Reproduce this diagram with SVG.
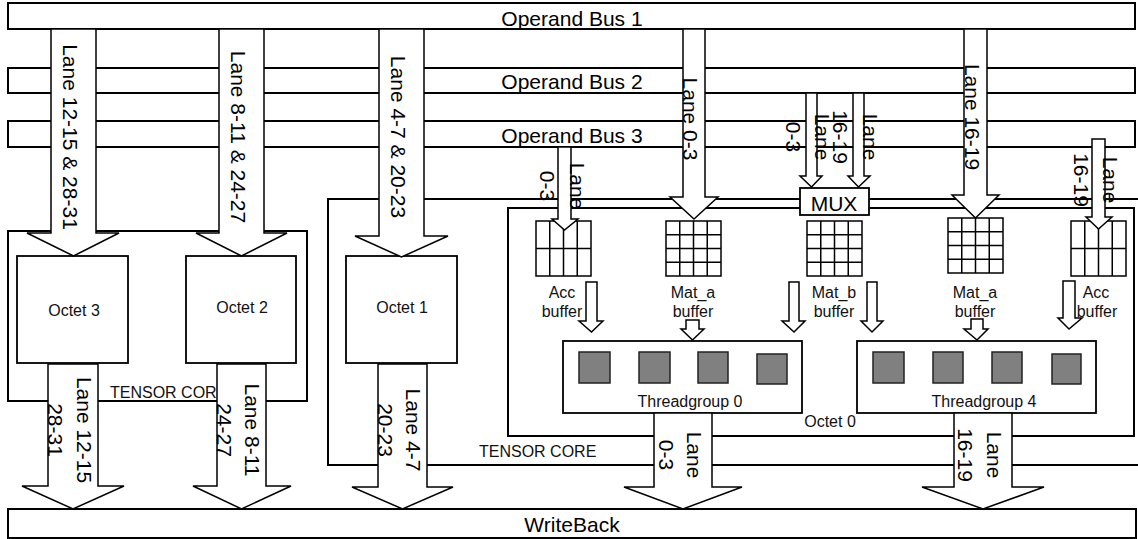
<svg xmlns="http://www.w3.org/2000/svg" width="1138" height="539" viewBox="0 0 1138 539">
<style>
.bus{fill:#fff;stroke:#000;stroke-width:2}
.ln{fill:none;stroke:#000;stroke-width:2}
.box{fill:#fff;stroke:#000;stroke-width:1.8}
.grid{fill:#fff;stroke:#000;stroke-width:1.5}
.core{fill:#808080;stroke:#222;stroke-width:1.5}
.arr{fill:#fff;stroke:#000;stroke-width:1.5;stroke-linejoin:miter}
.big{font-family:"Liberation Sans",Arial,sans-serif;font-size:21px;fill:#000}
.sm{font-family:"Liberation Sans",Arial,sans-serif;font-size:16px;fill:#111}
.mid{text-anchor:middle}
</style>
<rect width="1138" height="539" fill="#fff"/>

<g id="bus1"><rect class="bus" x="8" y="3" width="1127" height="26"/><text class="big mid" x="572" y="26">Operand Bus 1</text></g>
<g id="bus2"><rect class="bus" x="8" y="68" width="1127" height="25"/><text class="big mid" x="572" y="89">Operand Bus 2</text></g>
<g id="bus3"><rect class="bus" x="8" y="121" width="1127" height="26"/><text class="big mid" x="572" y="143">Operand Bus 3</text></g>
<g id="writeback"><rect class="bus" x="8" y="509" width="1128" height="29"/><text class="big mid" x="572" y="532">WriteBack</text></g>

<g id="tensorcore-left"><rect class="ln" x="8" y="231" width="299" height="170"/><text class="sm" x="110" y="398">TENSOR COR</text></g>
<g id="tensorcore-right"><path class="ln" d="M1140,199 H328 V465 H1140"/><text class="sm" x="479" y="457">TENSOR CORE</text></g>
<g id="octet0"><rect class="ln" x="508" y="208" width="626" height="228"/><text class="sm mid" x="830" y="427">Octet 0</text></g>

<g id="octet3"><rect class="box" x="17" y="256" width="111" height="107"/><text class="sm mid" x="74" y="316">Octet 3</text></g>
<g id="octet2"><rect class="box" x="186" y="256" width="110" height="107"/><text class="sm mid" x="242" y="313">Octet 2</text></g>
<g id="octet1"><rect class="box" x="346" y="256" width="111" height="107"/><text class="sm mid" x="402" y="313">Octet 1</text></g>

<g id="acc-buffer-left">
<rect class="grid" x="536" y="221" width="55" height="55"/>
<path class="grid" d="M549.75,221V276M563.5,221V276M577.25,221V276M536,248.5H591"/>
<text class="sm mid" x="562" y="298">Acc</text><text class="sm mid" x="562" y="317">buffer</text>
</g>
<g id="mat-a-buffer-left">
<rect class="grid" x="666" y="221" width="55" height="55"/>
<path class="grid" d="M679.75,221V276M693.5,221V276M707.25,221V276M666,234.75H721M666,248.5H721M666,262.25H721"/>
<text class="sm mid" x="693" y="298">Mat_a</text><text class="sm mid" x="693" y="317">buffer</text>
</g>
<g id="mat-b-buffer">
<rect class="grid" x="807" y="221" width="55" height="55"/>
<path class="grid" d="M820.75,221V276M834.5,221V276M848.25,221V276M807,234.75H862M807,248.5H862M807,262.25H862"/>
<text class="sm mid" x="834" y="298">Mat_b</text><text class="sm mid" x="834" y="317">buffer</text>
</g>
<g id="mat-a-buffer-right">
<rect class="grid" x="948" y="218" width="55" height="55"/>
<path class="grid" d="M961.75,218V273M975.5,218V273M989.25,218V273M948,231.75H1003M948,245.5H1003M948,259.25H1003"/>
<text class="sm mid" x="975" y="298">Mat_a</text><text class="sm mid" x="975" y="317">buffer</text>
</g>
<g id="acc-buffer-right">
<rect class="grid" x="1071" y="221" width="55" height="55"/>
<path class="grid" d="M1084.75,221V276M1098.5,221V276M1112.25,221V276M1071,248.5H1126"/>
</g>

<g id="threadgroup0">
<rect class="box" x="563" y="341" width="239" height="72"/>
<rect class="core" x="579" y="352" width="31" height="31"/>
<rect class="core" x="639" y="352" width="31" height="31"/>
<rect class="core" x="698" y="352" width="30" height="31"/>
<rect class="core" x="757" y="354" width="30" height="30"/>
<text class="sm mid" x="690" y="407">Threadgroup 0</text>
</g>
<g id="threadgroup4">
<rect class="box" x="857" y="341" width="239" height="72"/>
<rect class="core" x="873" y="352" width="31" height="31"/>
<rect class="core" x="933" y="352" width="30" height="31"/>
<rect class="core" x="992" y="352" width="30" height="31"/>
<rect class="core" x="1052" y="354" width="29" height="30"/>
<text class="sm mid" x="984" y="407">Threadgroup 4</text>
</g>

<g id="mux"><rect class="box" x="800" y="188" width="69" height="27"/><text class="big mid" x="834" y="211">MUX</text></g>

<g id="connectors">
<path class="arr" d="M51,29H96V233H119L73.5,256L27,233H51Z"/>
<path class="arr" d="M219,29H264V233H287L241.5,256L196,233H219Z"/>
<path class="arr" d="M379,29H424V236H448L401.5,257L355,236H379Z"/>
<path class="arr" d="M683,29H705V197H718L694,219L670,197H683Z"/>
<path class="arr" d="M964,29H987V195H999L975.5,218L952,195H964Z"/>
<path class="arr" d="M558,147H571V219H578L564.5,230L552,219H558Z"/>
<path class="arr" d="M806,93H817V176H822L811.5,187L800,176H806Z"/>
<path class="arr" d="M853,93H864V176H870L858.5,187L848,176H853Z"/>
<path class="arr" d="M1092,139H1105V217H1112L1098.5,229L1086,217H1092Z"/>
<path class="arr" d="M48,364H98V486H124L73,509L22,486H48Z"/>
<path class="arr" d="M217,364H266V486H291L241.5,509L193,486H217Z"/>
<path class="arr" d="M378,364H427V487H453L402.5,509L352,487H378Z"/>
<path class="arr" d="M654,413H712V487H742L683,509L624,487H654Z"/>
<path class="arr" d="M954,413H1012V487H1044L983,509L922,487H954Z"/>
<path class="arr" d="M586,282H597V321H603L591.5,332L579,321H586Z"/>
<path class="arr" d="M686,320H699V329H704L692.5,340L681,329H686Z"/>
<path class="arr" d="M789,282H799V321H805L794,332L782,321H789Z"/>
<path class="arr" d="M867,282H877V321H883L872,332L861,321H867Z"/>
<path class="arr" d="M971,319H983V329H988L977,340L964,329H971Z"/>
<path class="arr" d="M1063,281H1075V318H1082L1069,329L1058,318H1063Z"/>

<text class="big mid" transform="translate(63,137) rotate(90)">Lane 12-15 &amp; 28-31</text>
<text class="big mid" transform="translate(231,137) rotate(90)">Lane 8-11 &amp; 24-27</text>
<text class="big mid" transform="translate(391,137) rotate(90)">Lane 4-7 &amp; 20-23</text>
<text class="big mid" transform="translate(683,119) rotate(90)">Lane 0-3</text>
<text class="big mid" transform="translate(965,117) rotate(90)">Lane 16-19</text>
<text class="big mid" transform="translate(570,186) rotate(90)"><tspan x="0" y="0">Lane</tspan><tspan x="0" y="30">0-3</tspan></text>
<text class="big mid" transform="translate(815,137) rotate(90)"><tspan x="0" y="0">Lane</tspan><tspan x="0" y="29">0-3</tspan></text>
<text class="big mid" transform="translate(863,137) rotate(90)"><tspan x="0" y="0">Lane</tspan><tspan x="0" y="30">16-19</tspan></text>
<text class="big mid" transform="translate(1103,180) rotate(90)"><tspan x="0" y="0">Lane</tspan><tspan x="0" y="29">16-19</tspan></text>
<text class="big mid" transform="translate(77,430) rotate(90)"><tspan x="0" y="0">Lane 12-15</tspan><tspan x="0" y="29">28-31</tspan></text>
<text class="big mid" transform="translate(245,430) rotate(90)"><tspan x="0" y="0">Lane 8-11</tspan><tspan x="0" y="28">24-27</tspan></text>
<text class="big mid" transform="translate(406,430) rotate(90)"><tspan x="0" y="0">Lane 4-7</tspan><tspan x="0" y="28">20-23</tspan></text>
<text class="big mid" transform="translate(687,455) rotate(90)"><tspan x="0" y="0">Lane</tspan><tspan x="0" y="28">0-3</tspan></text>
<text class="big mid" transform="translate(987,455) rotate(90)"><tspan x="0" y="0">Lane</tspan><tspan x="0" y="29">16-19</tspan></text>
<text class="sm mid" x="1096" y="298">Acc</text><text class="sm mid" x="1097" y="317">buffer</text>
</g>
</svg>
